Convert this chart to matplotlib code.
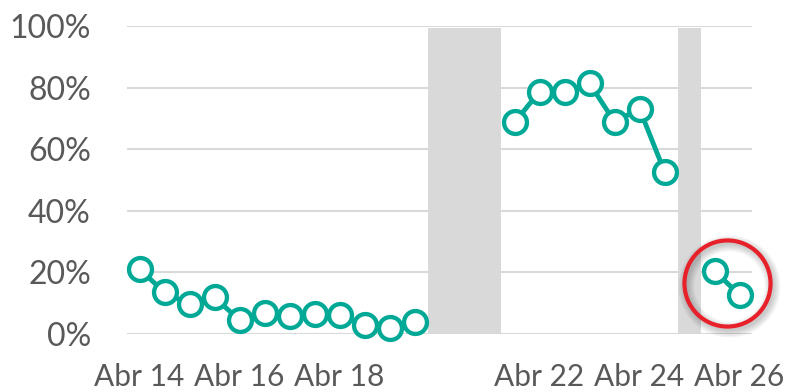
import numpy as np
import matplotlib
matplotlib.use("Agg")
import matplotlib.pyplot as plt
from matplotlib.ticker import FuncFormatter
from matplotlib.transforms import ScaledTranslation

plt.rcParams['font.family'] = ['Lato', 'DejaVu Sans']

# Half-day timestamps (day of April) and share values for each observed run
x_run1 = [14.0, 14.5, 15.0, 15.5, 16.0, 16.5, 17.0, 17.5, 18.0, 18.5, 19.0, 19.5]
y_run1 = [0.211, 0.135, 0.096, 0.119, 0.045, 0.067, 0.058, 0.064, 0.062, 0.030, 0.020, 0.040]

x_run2 = [21.5, 22.0, 22.5, 23.0, 23.5, 24.0, 24.5]
y_run2 = [0.687, 0.787, 0.785, 0.814, 0.689, 0.731, 0.527]

x_run3 = [25.5, 26.0]
y_run3 = [0.205, 0.127]

# Half-day slots with no data (shaded)
missing = [20.0, 20.5, 21.0, 25.0]

tick_days = [14, 16, 18, 22, 24, 26]
tick_labels = ["Abr 14", "Abr 16", "Abr 18", "Abr 22", "Abr 24", "Abr 26"]
y_ticks = [0, 0.2, 0.4, 0.6, 0.8, 1.0]

teal = "#00A896"
grey_txt = "#595959"

fig = plt.figure(figsize=(7.89, 3.92), dpi=100)
ax = fig.add_axes([127 / 789, 1 - 334 / 392, 625 / 789, 308 / 392])

# group consecutive missing slots into shaded blocks
runs = []
for m in missing:
    if runs and abs(m - runs[-1][-1] - 0.5) < 1e-9:
        runs[-1].append(m)
    else:
        runs.append([m])
for r in runs:
    center = (r[0] + r[-1]) / 2
    width = (r[-1] - r[0]) + 0.45
    ax.bar(center, 0.995, width=width, color="#D9D9D9", linewidth=0, zorder=1)

for xs, ys in [(x_run1, y_run1), (x_run2, y_run2), (x_run3, y_run3)]:
    ax.plot(xs, ys, color=teal, lw=3.5, marker="o", ms=16.5, mew=3.1,
            mfc="white", mec=teal, zorder=3, solid_capstyle="round",
            clip_on=False)

# highlight ring around the latest readings, with a soft shadow
cx = np.mean(x_run3)
cy = np.mean(y_run3)
shadow = ax.transData + ScaledTranslation(2 / 100, -3 / 100, fig.dpi_scale_trans)
for i in range(5):
    ax.plot([cx], [cy], marker="o", ms=62, mfc="none", mec="black",
            mew=2.5 + 2.2 * i, alpha=0.045, zorder=4, transform=shadow,
            clip_on=False)
ax.plot([cx], [cy], marker="o", ms=62, mfc="none", mec="#E8202A", mew=3.0,
        zorder=5, clip_on=False)

ax.set_xlim(13.75, 26.25)
ax.set_ylim(0, 1.0)
ax.set_yticks(y_ticks)
ax.yaxis.set_major_formatter(FuncFormatter(lambda v, p: f"{v * 100:.0f}%"))
ax.set_xticks(tick_days)
ax.set_xticklabels(tick_labels)

ax.grid(axis="y", color="#D9D9D9", lw=1.5, zorder=0)
ax.set_axisbelow(True)
for s in ax.spines.values():
    s.set_visible(False)
ax.tick_params(axis="both", length=0, colors=grey_txt)
ax.tick_params(axis="y", pad=26, labelsize=23)
ax.tick_params(axis="x", pad=21, labelsize=21.5)

fig.savefig("out.png", dpi=100)
